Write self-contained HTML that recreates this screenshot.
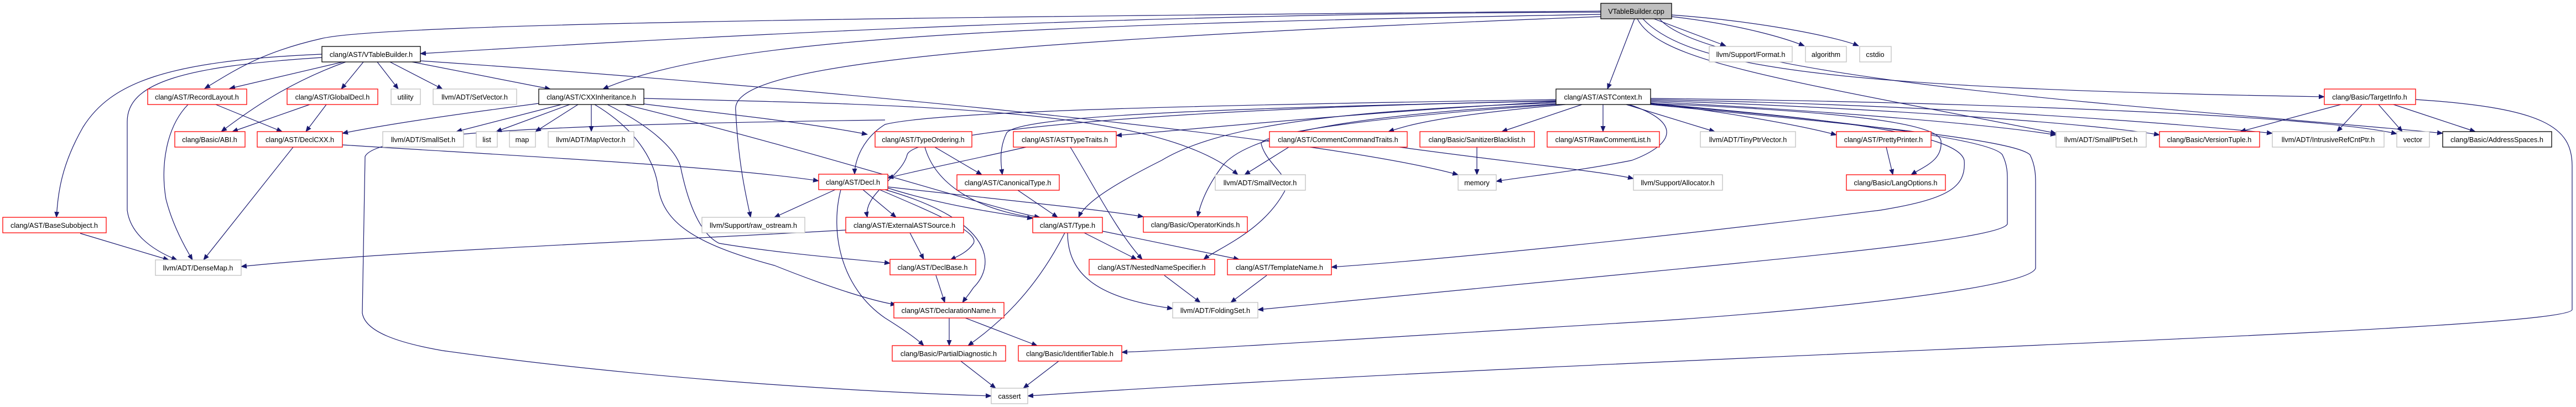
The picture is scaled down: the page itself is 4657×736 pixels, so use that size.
<!DOCTYPE html>
<html><head><meta charset="utf-8"><style>
html,body{margin:0;padding:0;background:#fff;}
svg{display:block;}
text{font-family:"Liberation Sans",Arial,sans-serif;font-size:12.7px;fill:#000;text-anchor:middle;}
.e{fill:none;stroke:#191970;stroke-width:1.2;marker-end:url(#a);}
.r{fill:#fff;stroke:#ff0000;stroke-width:1.3;}
.g{fill:#fff;stroke:#bfbfbf;stroke-width:1.3;}
.k{fill:#fff;stroke:#000;stroke-width:1.3;}
</style></head><body>
<svg width="4657" height="736" viewBox="0 0 4657 736" xmlns="http://www.w3.org/2000/svg">
<defs><marker id="a" markerWidth="11" markerHeight="9" refX="10" refY="4.5" orient="auto" markerUnits="userSpaceOnUse"><path d="M0,0 L11,4.5 L0,9z" fill="#191970"/></marker></defs>
<rect width="4657" height="736" fill="#fff"/>
<!-- edges from VTableBuilder.cpp -->
<path class="e" d="M2894,22 C2000,24 1200,70 760,97"/>
<path class="e" d="M2955,34 L2906,161"/>
<path class="e" d="M2990,34 L3120,83"/>
<path class="e" d="M3022,30 C3150,45 3230,70 3262,83"/>
<path class="e" d="M3022,27 C3200,40 3330,70 3360,83"/>
<path class="e" d="M2894,26 C1800,45 1300,70 1090,161"/>
<path class="e" d="M2894,20 C1800,30 700,40 580,70 C470,95 420,130 370,160"/>
<path class="e" d="M2894,30 C1600,80 1320,130 1330,200 C1335,300 1350,360 1357,393"/>
<path class="e" d="M2970,34 C3050,120 3300,160 4202,175"/>
<path class="e" d="M2960,34 C3000,110 3200,140 3717,241"/>
<path class="e" d="M3000,34 C3100,150 4000,200 4416,241"/>
<!-- VTableBuilder.h -->
<path class="e" d="M620,112 L415,160"/>
<path class="e" d="M657,112 L617,161"/>
<path class="e" d="M682,112 L720,161"/>
<path class="e" d="M705,112 L800,161"/>
<path class="e" d="M745,112 L995,161"/>
<path class="e" d="M625,112 C520,150 450,200 400,238"/>
<path class="e" d="M582,98 C300,110 200,150 150,230 C110,300 105,350 102,393"/>
<path class="e" d="M582,104 C330,120 230,150 230,220 L230,380 C235,420 270,450 320,470"/>
<path class="e" d="M760,110 C1500,160 2400,250 2636,316"/>
<!-- RecordLayout, GlobalDecl, DeclCXX -->
<path class="e" d="M340,189 C300,230 290,300 300,360 C310,400 330,440 348,470"/>
<path class="e" d="M390,189 L510,238"/>
<path class="e" d="M560,189 L420,238"/>
<path class="e" d="M590,189 L553,238"/>
<path class="e" d="M530,266 L368,470"/>
<path class="e" d="M619,262 C900,280 1300,300 1480,327"/>
<path class="e" d="M145,422 L305,470"/>
<!-- CXXInheritance -->
<path class="e" d="M974,187 C800,210 700,225 619,241"/>
<path class="e" d="M1015,189 L825,238"/>
<path class="e" d="M1030,189 L897,238"/>
<path class="e" d="M1045,189 L968,238"/>
<path class="e" d="M1069,189 L1069,238"/>
<path class="e" d="M1164,188 C1300,205 1450,220 1568,243"/>
<path class="e" d="M1130,189 C1500,280 1800,380 1880,393"/>
<path class="e" d="M1098,189 C1180,230 1220,270 1230,300 C1240,350 1260,420 1300,440 C1420,460 1560,470 1609,476"/>
<path class="e" d="M1075,189 C1160,240 1185,300 1190,340 C1200,400 1250,440 1400,480 C1500,520 1580,545 1620,551"/>
<path class="e" d="M1164,178 C1700,190 2100,200 2238,316"/>
<path class="e" d="M1600,217 C1000,225 680,240 660,283 L655,566 C660,600 720,620 800,634 C1200,690 1600,710 1792,716"/>
<!-- ASTContext -->
<path class="e" d="M2813,180 C2200,190 1700,200 1600,225 C1560,250 1545,290 1545,315"/>
<path class="e" d="M2813,182 C2300,195 1850,205 1820,240 C1805,270 1810,300 1812,316"/>
<path class="e" d="M2813,184 C2500,200 2200,230 2018,245"/>
<path class="e" d="M2813,186 C2400,200 2200,230 2100,290 C2000,340 1960,370 1950,393"/>
<path class="e" d="M2813,188 C2400,210 2250,250 2210,300 C2180,340 2170,370 2165,392"/>
<path class="e" d="M2813,189 C2500,210 2280,240 2280,260 C2290,300 2340,320 2320,350 C2280,420 2200,450 2176,469"/>
<path class="e" d="M2813,183 C2100,195 1650,240 1640,280 C1630,320 1560,350 1568,393"/>
<path class="e" d="M2830,189 C2600,210 2550,225 2510,238"/>
<path class="e" d="M2860,189 L2715,238"/>
<path class="e" d="M2898,189 L2898,238"/>
<path class="e" d="M2940,189 L3100,238"/>
<path class="e" d="M2945,189 C3040,220 3030,260 2950,290 C2850,310 2750,320 2705,328"/>
<path class="e" d="M2984,186 C3100,200 3250,225 3320,244"/>
<path class="e" d="M2984,187 C3300,200 3505,220 3509,255 C3512,290 3480,300 3455,316"/>
<path class="e" d="M2984,184 C3300,200 3600,225 3717,244"/>
<path class="e" d="M2984,182 C3400,195 3800,225 3904,244"/>
<path class="e" d="M2984,180 C3500,190 3900,220 4108,241"/>
<path class="e" d="M2984,178 C3600,185 4200,210 4333,242"/>
<path class="e" d="M2984,187 C3300,215 3540,240 3551,290 C3555,340 3520,360 3400,380 C3000,430 2600,470 2407,483"/>
<path class="e" d="M2984,188 C3300,215 3600,250 3620,280 C3630,300 3629,317 3629,330 L3629,405 C3620,430 3300,460 3100,480 C2700,520 2400,550 2274,560"/>
<path class="e" d="M2984,189 C3300,220 3640,250 3670,280 C3680,300 3680,320 3680,330 L3680,485 C3670,520 3300,560 3000,580 C2500,610 2200,630 2028,637"/>
<!-- small ones -->
<path class="e" d="M2330,266 L2250,316"/>
<path class="e" d="M2530,266 C2700,290 2900,310 2953,323"/>
<path class="e" d="M2670,266 L2670,316"/>
<path class="e" d="M3410,266 L3422,316"/>
<path class="e" d="M4232,189 L4050,238"/>
<path class="e" d="M4270,189 L4225,238"/>
<path class="e" d="M4300,189 L4343,238"/>
<path class="e" d="M4327,189 L4475,238"/>
<path class="e" d="M4367,180 C4600,195 4650,230 4650,300 L4650,560 C4640,600 3000,640 1858,716"/>
<path class="e" d="M1690,266 L1775,316"/>
<path class="e" d="M1672,266 C1690,330 1760,380 1880,395"/>
<path class="e" d="M1855,266 C1750,290 1650,310 1605,322"/>
<path class="e" d="M1935,266 C1980,340 2020,420 2065,469"/>
<path class="e" d="M1510,343 L1400,393"/>
<path class="e" d="M1560,343 L1620,393"/>
<path class="e" d="M1590,343 C1700,390 1770,420 1760,440 C1750,455 1735,462 1718,470"/>
<path class="e" d="M1600,343 C1800,400 1800,480 1760,520 C1750,535 1745,540 1740,547"/>
<path class="e" d="M1605,340 C1700,370 1800,385 1867,395"/>
<path class="e" d="M1605,338 C1800,360 2000,380 2067,392"/>
<path class="e" d="M1520,343 C1500,420 1520,520 1600,575 C1640,600 1660,615 1670,625"/>
<path class="e" d="M1840,344 L1912,393"/>
<path class="e" d="M1645,421 L1670,469"/>
<path class="e" d="M1530,416 C1100,440 700,455 436,482"/>
<path class="e" d="M1960,421 L2055,469"/>
<path class="e" d="M1993,418 C2100,440 2200,460 2240,469"/>
<path class="e" d="M1930,421 C1930,500 1990,540 2120,558"/>
<path class="e" d="M1925,421 C1870,530 1800,590 1750,625"/>
<path class="e" d="M1692,498 L1708,547"/>
<path class="e" d="M1716,575 L1716,625"/>
<path class="e" d="M1745,575 L1875,625"/>
<path class="e" d="M2105,498 L2170,547"/>
<path class="e" d="M2290,498 L2225,547"/>
<path class="e" d="M1737,653 L1800,702"/>
<path class="e" d="M1914,653 L1850,702"/>
<!-- nodes -->
<rect x="2894" y="6" width="128" height="28" fill="#bfbfbf" stroke="#000" stroke-width="1.3"/><text x="2958" y="25">VTableBuilder.cpp</text>
<rect class="k" x="582" y="84" width="178" height="28"/><text x="671" y="103">clang/AST/VTableBuilder.h</text>
<rect class="g" x="3090" y="84" width="150" height="28"/><text x="3165" y="103">llvm/Support/Format.h</text>
<rect class="g" x="3264" y="84" width="74" height="28"/><text x="3301" y="103">algorithm</text>
<rect class="g" x="3362" y="84" width="57" height="28"/><text x="3390" y="103">cstdio</text>
<rect class="r" x="267" y="161" width="179" height="28"/><text x="356" y="180">clang/AST/RecordLayout.h</text>
<rect class="r" x="519" y="161" width="164" height="28"/><text x="601" y="180">clang/AST/GlobalDecl.h</text>
<rect class="g" x="707" y="161" width="53" height="28"/><text x="733" y="180">utility</text>
<rect class="g" x="783" y="161" width="151" height="28"/><text x="858" y="180">llvm/ADT/SetVector.h</text>
<rect class="k" x="974" y="161" width="190" height="28"/><text x="1069" y="180">clang/AST/CXXInheritance.h</text>
<rect class="k" x="2813" y="161" width="171" height="28"/><text x="2898" y="180">clang/AST/ASTContext.h</text>
<rect class="r" x="4202" y="161" width="165" height="28"/><text x="4284" y="180">clang/Basic/TargetInfo.h</text>
<rect class="r" x="316" y="238" width="127" height="28"/><text x="379" y="257">clang/Basic/ABI.h</text>
<rect class="r" x="465" y="238" width="154" height="28"/><text x="542" y="257">clang/AST/DeclCXX.h</text>
<rect class="g" x="692" y="238" width="146" height="28"/><text x="765" y="257">llvm/ADT/SmallSet.h</text>
<rect class="g" x="861" y="238" width="38" height="28"/><text x="880" y="257">list</text>
<rect class="g" x="921" y="238" width="47" height="28"/><text x="944" y="257">map</text>
<rect class="g" x="991" y="238" width="155" height="28"/><text x="1068" y="257">llvm/ADT/MapVector.h</text>
<rect class="r" x="1582" y="238" width="175" height="28"/><text x="1669" y="257">clang/AST/TypeOrdering.h</text>
<rect class="r" x="1832" y="238" width="186" height="28"/><text x="1925" y="257">clang/AST/ASTTypeTraits.h</text>
<rect class="r" x="2295" y="238" width="249" height="28"/><text x="2419" y="257">clang/AST/CommentCommandTraits.h</text>
<rect class="r" x="2567" y="238" width="207" height="28"/><text x="2670" y="257">clang/Basic/SanitizerBlacklist.h</text>
<rect class="r" x="2797" y="238" width="203" height="28"/><text x="2898" y="257">clang/AST/RawCommentList.h</text>
<rect class="g" x="3074" y="238" width="172" height="28"/><text x="3160" y="257">llvm/ADT/TinyPtrVector.h</text>
<rect class="r" x="3320" y="238" width="171" height="28"/><text x="3405" y="257">clang/AST/PrettyPrinter.h</text>
<rect class="g" x="3717" y="238" width="163" height="28"/><text x="3798" y="257">llvm/ADT/SmallPtrSet.h</text>
<rect class="r" x="3904" y="238" width="181" height="28"/><text x="3994" y="257">clang/Basic/VersionTuple.h</text>
<rect class="g" x="4108" y="238" width="202" height="28"/><text x="4209" y="257">llvm/ADT/IntrusiveRefCntPtr.h</text>
<rect class="g" x="4333" y="238" width="59" height="28"/><text x="4362" y="257">vector</text>
<rect class="k" x="4416" y="238" width="197" height="28"/><text x="4514" y="257">clang/Basic/AddressSpaces.h</text>
<rect class="r" x="1480" y="315" width="125" height="28"/><text x="1542" y="334">clang/AST/Decl.h</text>
<rect class="r" x="1730" y="316" width="185" height="28"/><text x="1822" y="335">clang/AST/CanonicalType.h</text>
<rect class="g" x="2197" y="316" width="163" height="28"/><text x="2278" y="335">llvm/ADT/SmallVector.h</text>
<rect class="g" x="2636" y="316" width="69" height="28"/><text x="2670" y="335">memory</text>
<rect class="g" x="2953" y="316" width="161" height="28"/><text x="3033" y="335">llvm/Support/Allocator.h</text>
<rect class="r" x="3338" y="316" width="179" height="28"/><text x="3427" y="335">clang/Basic/LangOptions.h</text>
<rect class="r" x="5" y="393" width="187" height="28"/><text x="98" y="412">clang/AST/BaseSubobject.h</text>
<rect class="g" x="1269" y="393" width="186" height="28"/><text x="1362" y="412">llvm/Support/raw_ostream.h</text>
<rect class="r" x="1529" y="393" width="213" height="28"/><text x="1635" y="412">clang/AST/ExternalASTSource.h</text>
<rect class="r" x="1867" y="393" width="126" height="28"/><text x="1930" y="412">clang/AST/Type.h</text>
<rect class="r" x="2067" y="392" width="188" height="28"/><text x="2161" y="411">clang/Basic/OperatorKinds.h</text>
<rect class="g" x="281" y="470" width="155" height="28"/><text x="358" y="489">llvm/ADT/DenseMap.h</text>
<rect class="r" x="1609" y="469" width="155" height="28"/><text x="1686" y="488">clang/AST/DeclBase.h</text>
<rect class="r" x="1969" y="469" width="227" height="28"/><text x="2082" y="488">clang/AST/NestedNameSpecifier.h</text>
<rect class="r" x="2219" y="469" width="188" height="28"/><text x="2313" y="488">clang/AST/TemplateName.h</text>
<rect class="r" x="1616" y="547" width="199" height="28"/><text x="1715" y="566">clang/AST/DeclarationName.h</text>
<rect class="g" x="2120" y="547" width="154" height="28"/><text x="2197" y="566">llvm/ADT/FoldingSet.h</text>
<rect class="r" x="1613" y="625" width="205" height="28"/><text x="1715" y="644">clang/Basic/PartialDiagnostic.h</text>
<rect class="r" x="1841" y="625" width="187" height="28"/><text x="1934" y="644">clang/Basic/IdentifierTable.h</text>
<rect class="g" x="1792" y="702" width="66" height="28"/><text x="1825" y="721">cassert</text>
</svg>
</body></html>
